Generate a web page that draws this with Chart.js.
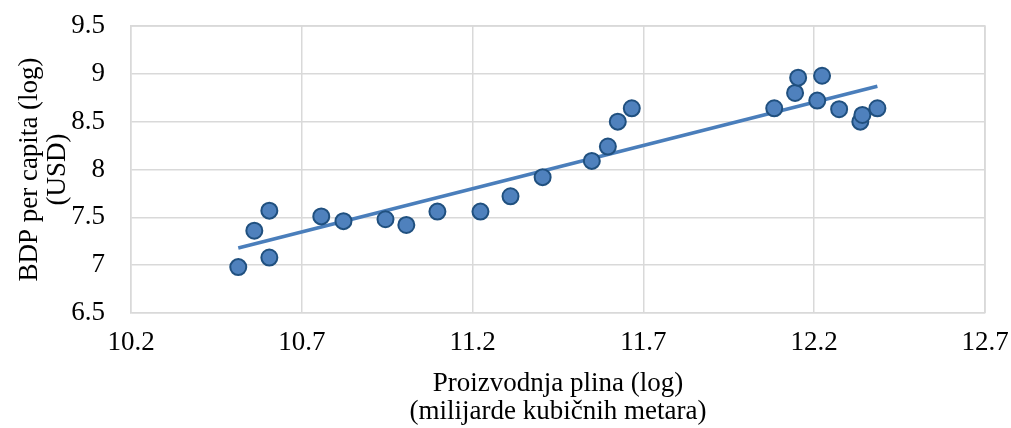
<!DOCTYPE html>
<html>
<head>
<meta charset="utf-8">
<script src="https://cdn.jsdelivr.net/npm/chart.js@4"></script>
<style>
  body { margin: 0; background: #fff; }
  #wrap { width: 1011px; height: 428px; }
</style>
</head>
<body>
<div id="wrap"><canvas id="gasChart" width="1011" height="428"></canvas></div>
<script>
// gas production (log) vs GDP per capita (log)
const gasLog = [10.514, 10.561, 10.605, 10.605, 10.757, 10.822, 10.945, 11.006, 11.097, 11.223,
                11.311, 11.405, 11.549, 11.596, 11.625, 11.666, 12.083, 12.144, 12.153, 12.209,
                12.223, 12.273, 12.335, 12.341, 12.385];
const gdpLog = [6.98, 7.36, 7.57, 7.08, 7.51, 7.46, 7.48, 7.42, 7.56, 7.56,
                7.72, 7.92, 8.09, 8.24, 8.50, 8.64, 8.64, 8.80, 8.96, 8.72,
                8.98, 8.63, 8.50, 8.57, 8.64];
// trendline ends
const trendX = [10.514, 12.385];
const trendY = [7.18, 8.87];

const xTicks = [10.2, 10.7, 11.2, 11.7, 12.2, 12.7];
const yTicks = [6.5, 7, 7.5, 8, 8.5, 9, 9.5];

const points = gasLog.map((x, i) => ({ x: x, y: gdpLog[i] }));
const trend = trendX.map((x, i) => ({ x: x, y: trendY[i] }));

const font = { family: "'Liberation Serif', 'Times New Roman', serif", size: 27, lineHeight: 1.04 };
const gridColor = '#d9d9d9';

new Chart('gasChart', {
    type: 'scatter',
    data: {
        datasets: [
            {
                data: points,
                backgroundColor: '#4f81bd',
                borderColor: '#20507f',
                borderWidth: 2,
                pointRadius: 8,
                order: 1
            },
            {
                type: 'line',
                data: trend,
                borderColor: '#4a7ebb',
                borderWidth: 3.5,
                pointRadius: 0,
                fill: false,
                order: 2
            }
        ]
    },
    options: {
        responsive: false,
        animation: false,
        layout: { padding: { top: 26, right: 26, left: 0, bottom: 0 } },
        plugins: { legend: { display: false }, tooltip: { enabled: false } },
        scales: {
            x: {
                type: 'linear',
                min: 10.2,
                max: 12.7,
                afterBuildTicks: s => { s.ticks = xTicks.map(v => ({ value: v })); },
                afterFit: s => { s.height = 115; s.paddingLeft = 0; s.paddingRight = 0; },
                grid: { color: gridColor, lineWidth: 1.5, drawTicks: false },
                border: { color: gridColor, width: 1.5 },
                ticks: { font: font, color: '#000', padding: 16, maxRotation: 0,
                         callback: v => v.toFixed(1) },
                title: { display: true, text: ['Proizvodnja plina (log)', '(milijarde kubičnih metara)'],
                         font: font, color: '#000', padding: { top: 8, bottom: 2 } }
            },
            y: {
                min: 6.5,
                max: 9.5,
                afterBuildTicks: s => { s.ticks = yTicks.map(v => ({ value: v })); },
                afterFit: s => { s.width = 131; s.paddingTop = 0; s.paddingBottom = 0; },
                grid: { color: gridColor, lineWidth: 1.5, drawTicks: false },
                border: { color: gridColor, width: 1.5 },
                ticks: { font: font, color: '#000', padding: 26, callback: v => String(v) },
                title: { display: true, text: ['BDP per capita (log)', '(USD)'],
                         font: font, color: '#000', padding: { top: 16, bottom: 0 } }
            }
        }
    },
    plugins: [{
        id: 'rightTopBorder',
        afterDraw(chart) {
            const a = chart.chartArea, c = chart.ctx;
            c.save();
            c.strokeStyle = gridColor;
            c.lineWidth = 1.5;
            c.beginPath();
            c.moveTo(a.left, a.top);
            c.lineTo(a.right, a.top);
            c.lineTo(a.right, a.bottom);
            c.stroke();
            c.restore();
        }
    }]
});
</script>
</body>
</html>
